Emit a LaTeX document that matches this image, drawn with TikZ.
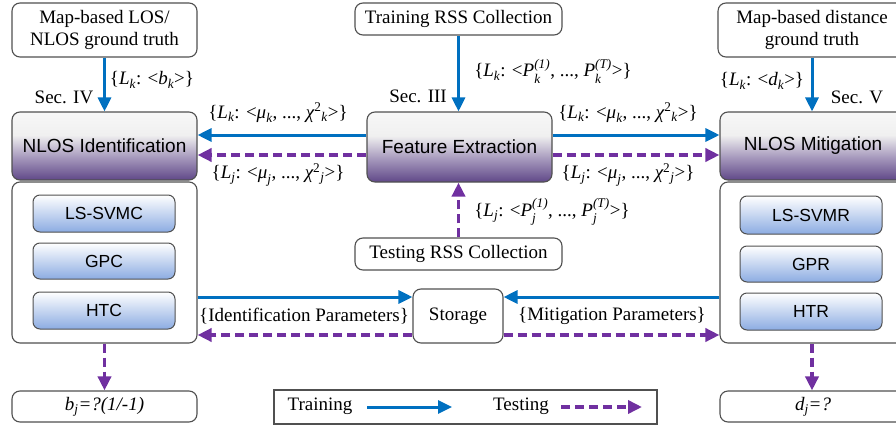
\documentclass[tikz,border=0pt]{standalone}
\usepackage{amsmath}
\usepackage{fontspec}
\setmainfont{Liberation Serif}
\newfontfamily\arialf{Liberation Sans}
\usetikzlibrary{arrows.meta}
\definecolor{tblue}{RGB}{0,112,192}
\definecolor{tpurp}{RGB}{112,48,160}
\definecolor{boxpurp}{RGB}{96,72,136}
\definecolor{boxblue}{RGB}{140,172,226}
\definecolor{edge}{RGB}{80,80,80}
\pgfdeclareverticalshading{purpsh}{100bp}{color(0bp)=(boxpurp); color(25bp)=(boxpurp); color(42bp)=(boxpurp!55!white); color(58bp)=(white!94!black); color(75bp)=(white!97!black); color(100bp)=(white!97!black)}
\newcommand\im[1]{\text{\itshape #1}}
\tikzset{
  serif/.style={font=\fontsize{19}{22}\selectfont},
  plainbox/.style={draw=edge, line width=1.1pt, rounded corners=8pt, fill=white, inner sep=0pt, align=center, serif},
  purpbox/.style={draw=edge, line width=1.1pt, rounded corners=8pt, shading=purpsh, inner sep=0pt, font=\arialf\fontsize{19}{22}\selectfont},
  bluebox/.style={draw=edge, line width=1pt, rounded corners=7pt, top color=white, bottom color=boxblue, inner sep=0pt, minimum width=142pt, font=\arialf\fontsize{17.5}{20}\selectfont},
  lbl/.style={inner sep=0pt, serif},
  tr/.style={draw=tblue, line width=3pt, -{Triangle[length=14pt,width=13pt]}},
  te/.style={draw=tpurp, line width=3.5pt, dash pattern=on 9pt off 5pt, -{Triangle[length=14pt,width=13pt]}},
}
\begin{document}
\begin{tikzpicture}[x=1pt,y=-1pt]
\useasboundingbox (0,0) rectangle (896,428);
\clip (0,0) rectangle (896,428);
% left column
\node[plainbox, minimum width=185pt, minimum height=54pt] (gtL) at (104.5,30) {Map-based LOS/\\NLOS ground truth};
\node[purpbox, minimum width=185pt, minimum height=68pt] (nid) at (104.5,146) {NLOS Identification};
\node[plainbox, minimum width=185pt, minimum height=161pt] (contL) at (104.5,262.5) {};
\node[bluebox, minimum height=37pt] (svmc) at (104,213.5) {LS-SVMC};
\node[bluebox, minimum height=36pt] (gpc) at (104,261) {GPC};
\node[bluebox, minimum height=37pt] (htc) at (104,310.5) {HTC};
\node[plainbox, minimum width=185pt, minimum height=31pt] (outL) at (104.5,406.5) {\itshape b\textsubscript{j}=?(1/-1)};
% center column
\node[plainbox, minimum width=207pt, minimum height=32pt] (trs) at (458.5,19) {Training RSS Collection};
\node[purpbox, minimum width=185pt, minimum height=70pt] (fe) at (459.5,147) {Feature Extraction};
\node[plainbox, minimum width=207pt, minimum height=32pt] (tes) at (458.5,254) {Testing RSS Collection};
\node[plainbox, minimum width=90pt, minimum height=54pt] (sto) at (458,316) {Storage};
% right column
\node[plainbox, minimum width=188pt, minimum height=54pt] (gtR) at (812,30) {Map-based distance\\ground truth};
\node[purpbox, minimum width=186pt, minimum height=68pt] (nmi) at (813,146) {NLOS Mitigation};
\node[plainbox, minimum width=186pt, minimum height=161pt] (contR) at (813,262.5) {};
\node[bluebox, minimum height=38pt] (svmr) at (811,215) {LS-SVMR};
\node[bluebox, minimum height=36pt] (gpr) at (811,264) {GPR};
\node[bluebox, minimum height=37pt] (htr) at (811,311.5) {HTR};
\node[plainbox, minimum width=186pt, minimum height=31pt] (outR) at (813,406.5) {\itshape d\textsubscript{j}=?};
% legend
\node[draw=edge, line width=1.1pt, minimum width=383pt, minimum height=34pt, inner sep=0pt] (leg) at (465.5,407) {};
\node[lbl] (legtr) at (320,406) {Training};
\node[lbl] (legte) at (521,406) {Testing};
\coordinate (l1a) at (367,407); \coordinate (l1b) at (452,407);
\coordinate (l2a) at (561,407); \coordinate (l2b) at (642,407);
\draw[tr] (l1a) -- (l1b);
\draw[te] (l2a) -- (l2b);
% helper y levels
\coordinate (yA) at (0,135);
\coordinate (yB) at (0,155);
\coordinate (yS1) at (0,297);
\coordinate (yS2) at (0,335);
% vertical arrows
\draw[tr] (gtL.south) -- (nid.north);
\draw[tr] (trs.south) -- (trs.south |- fe.north);
\draw[tr] (gtR.south) -- (gtR.south |- nmi.north);
\draw[te] (tes.north) -- (tes.north |- fe.south);
\draw[te] (contL.south) -- (outL.north);
\draw[te] (gtR.south |- contR.south) -- (gtR.south |- outR.north);
% horizontal arrows
\draw[tr] (fe.west |- yA) -- (nid.east |- yA);
\draw[te] (fe.west |- yB) -- (nid.east |- yB);
\draw[tr] (fe.east |- yA) -- (nmi.west |- yA);
\draw[te] (fe.east |- yB) -- (nmi.west |- yB);
\draw[tr] (contL.east |- yS1) -- (sto.west |- yS1);
\draw[te] (sto.west |- yS2) -- (contL.east |- yS2);
\draw[tr] (contR.west |- yS1) -- (sto.east |- yS1);
\draw[te] (sto.east |- yS2) -- (contR.west |- yS2);
% labels
\node[lbl] (lbk) at (152,80) {\{$\im{L}_{\im{k}}$: <$\im{b}_{\im{k}}$>\}};
\node[lbl] (s4) at (64,97) {Sec. IV};
\node[lbl] (lpk) at (553,71) {\{$\im{L}_{\im{k}}$: <$\im{P}_{\im{k}}^{\im{(1)}}$, ..., $\im{P}_{\im{k}}^{\im{(T)}}$>\}};
\node[lbl] (s3) at (418,96) {Sec. III};
\node[lbl] (lmk1) at (278,113) {\{$\im{L}_{\im{k}}$: <$\im{μ}_{\im{k}}$, ..., $\im{χ}^{\text{2}}{}_{\im{k}}$>\}};
\node[lbl] (lmj1) at (278,175) {\{$\im{L}_{\im{j}}$: <$\im{μ}_{\im{j}}$, ..., $\im{χ}^{\text{2}}{}_{\im{j}}$>\}};
\node[lbl] (lmk2) at (628,113) {\{$\im{L}_{\im{k}}$: <$\im{μ}_{\im{k}}$, ..., $\im{χ}^{\text{2}}{}_{\im{k}}$>\}};
\node[lbl] (lmj2) at (628,175) {\{$\im{L}_{\im{j}}$: <$\im{μ}_{\im{j}}$, ..., $\im{χ}^{\text{2}}{}_{\im{j}}$>\}};
\node[lbl] (lpj) at (552,212) {\{$\im{L}_{\im{j}}$: <$\im{P}_{\im{j}}^{\im{(1)}}$, ..., $\im{P}_{\im{j}}^{\im{(T)}}$>\}};
\node[lbl] (ldk) at (762,81) {\{$\im{L}_{\im{k}}$: <$\im{d}_{\im{k}}$>\}};
\node[lbl] (s5) at (857,97) {Sec. V};
\node[lbl] (lip) at (304,316) {\{Identification Parameters\}};
\node[lbl] (lmp) at (612,316) {\{Mitigation Parameters\}};
\end{tikzpicture}
\end{document}
